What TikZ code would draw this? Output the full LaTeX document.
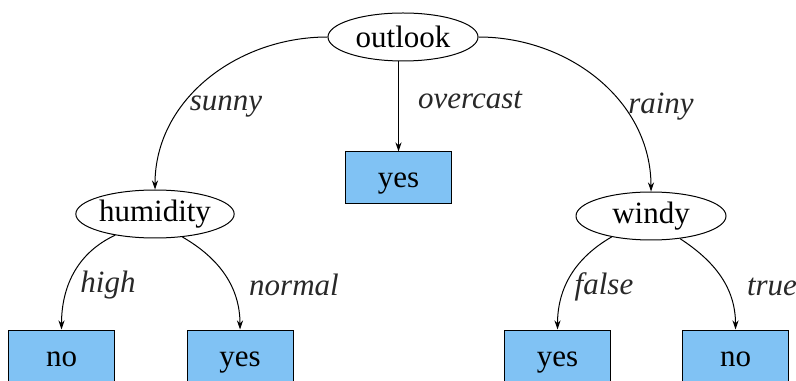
\documentclass[tikz,border=0pt]{standalone}
\usepackage{fontspec}
\setmainfont{LiberationSerif}[Extension=.ttf, UprightFont=*-Regular, ItalicFont=*-Italic,
  BoldFont=*-Bold, BoldItalicFont=*-BoldItalic]
\usetikzlibrary{shapes.geometric, arrows.meta}
\definecolor{leafblue}{RGB}{128,194,244}
\definecolor{labelgray}{RGB}{40,40,40}
\begin{document}
\begin{tikzpicture}[x=0.5pt, y=0.5pt, >={Stealth[length=4.5pt,width=3pt]},
    attr/.style={draw, ellipse, line width=0.5pt, minimum width=75pt, minimum height=24pt,
      inner sep=0pt, font=\fontsize{15.5}{18}\selectfont},
    leaf/.style={draw, fill=leafblue, line width=0.5pt, minimum width=53pt, minimum height=26pt,
      inner sep=0pt, text height=13pt, text depth=3pt, font=\fontsize{15.5}{18}\selectfont},
    branch/.style={text=labelgray, font=\fontsize{15.5}{18}\selectfont\itshape},
    edge/.style={->, line width=0.5pt}]
        % ==== FRAME ====
        \clip (0,0) rectangle (796,380);

        % ==== ATTRIBUTE NODES ====
        \node[attr] (outlook) at (403,343) {outlook};
        \node[attr] (humidity) at (155,166) {humidity};
        \node[attr] (windy) at (651,164) {windy};

        % ==== LEAVES ====
        \node[leaf] (overyes) at (398.5,202) {yes};
        \node[leaf] (highno) at (61.5,24) {no};
        \node[leaf] (normalyes) at (240,24) {yes};
        \node[leaf] (falseyes) at (557.5,24) {yes};
        \node[leaf] (trueno) at (735.5,24) {no};

        % ==== EDGES ====
        \draw[edge] (outlook.west) to[out=180, in=90] (humidity.north);
        \draw[edge] (outlook.south -| overyes.north) -- (overyes.north);
        \draw[edge] (outlook.east) to[out=0, in=90] (windy.north);
        \draw[edge] (humidity.-152) to[out=-155, in=90] (highno.north);
        \draw[edge] (humidity.-40) to[out=-30, in=90] (normalyes.north);
        \draw[edge] (windy.-152) to[out=-150, in=90] (falseyes.north);
        \draw[edge] (windy.-38) to[out=-33, in=90] (trueno.north);

        % ==== BRANCH LABELS ====
        \node[branch] (sunny) at (226,273) {sunny};
        \node[branch] (overcast) at (470,280) {overcast};
        \node[branch] (rainy) at (661,273) {rainy};
        \node[branch] (high) at (108,95) {high};
        \node[branch] (normal) at (294,95) {normal};
        \node[branch] (false) at (604,93) {false};
        \node[branch] (true) at (772,93) {true};

    \end{tikzpicture}
\end{document}
